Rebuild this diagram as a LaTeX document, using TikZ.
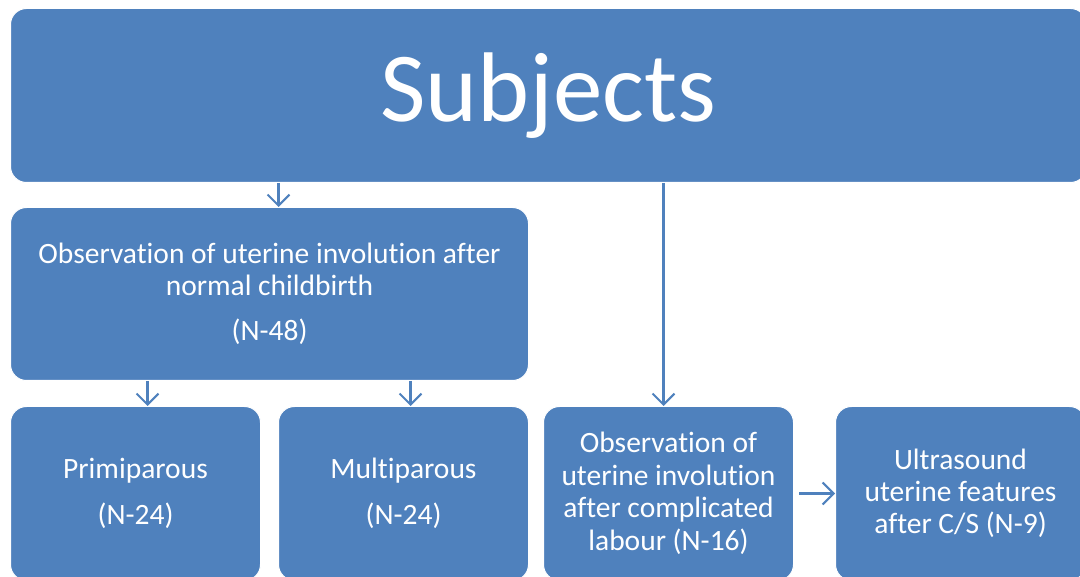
\documentclass[tikz,border=0pt]{standalone}
\usepackage{fontspec}
\setmainfont{Carlito}[Ligatures=NoCommon]
\usetikzlibrary{arrows.meta,positioning}
\definecolor{boxblue}{RGB}{79,129,189}

\tikzset{
  subjbox/.style={draw=white, line width=1pt, fill=boxblue, rounded corners=16pt,
    anchor=north west, text=white, align=center, inner sep=0pt},
  link/.style={draw=boxblue, line width=2.2pt, -{Straight Barb[length=11pt, width=22pt, line width=2pt]}}
}

\begin{document}
\begin{tikzpicture}[x=1pt, y=-1pt]
  \useasboundingbox (0,0) rectangle (1080,577);
  \clip (0,0) rectangle (1080,577);

  % top box
  \node[subjbox, minimum width=1076pt, minimum height=174pt, font=\fontsize{99}{110}\selectfont]
    (subj) at (10,8) {Subjects};

  % second level
  \node[subjbox, minimum width=518pt, minimum height=173pt, font=\fontsize{29.5}{32}\selectfont]
    (normal) at (10,207) {Observation of uterine involution after\\normal childbirth\\[13pt](N-48)};

  % third level
  \node[subjbox, minimum width=250pt, minimum height=174pt, font=\fontsize{29.5}{32}\selectfont]
    (primi) at (10,406) {Primiparous\\[14pt](N-24)};
  \node[subjbox, minimum width=250pt, minimum height=174pt, font=\fontsize{29.5}{32}\selectfont]
    (multi) at (278,406) {Multiparous\\[14pt](N-24)};
  \node[subjbox, minimum width=250pt, minimum height=174pt, font=\fontsize{29.5}{32.5}\selectfont]
    (compl) at (543,406) {Observation of\\uterine involution\\after complicated\\labour (N-16)};
  \node[subjbox, minimum width=250pt, minimum height=174pt, font=\fontsize{29.5}{32}\selectfont]
    (ultra) at (835,406) {Ultrasound\\uterine features\\after C/S (N-9)};

  % connectors
  \draw[link] ([xshift=9pt]normal.north |- subj.south) -- ([xshift=9pt]normal.north);
  \draw[link] ([xshift=12pt]primi.north |- normal.south) -- ([xshift=12pt]primi.north);
  \draw[link] ([xshift=7pt]multi.north |- normal.south) -- ([xshift=7pt]multi.north);
  \draw[link] ([xshift=-5pt]compl.north |- subj.south) -- ([xshift=-5pt]compl.north);
  \draw[link] ([xshift=5pt]compl.east) -- (ultra.west);
\end{tikzpicture}
\end{document}
